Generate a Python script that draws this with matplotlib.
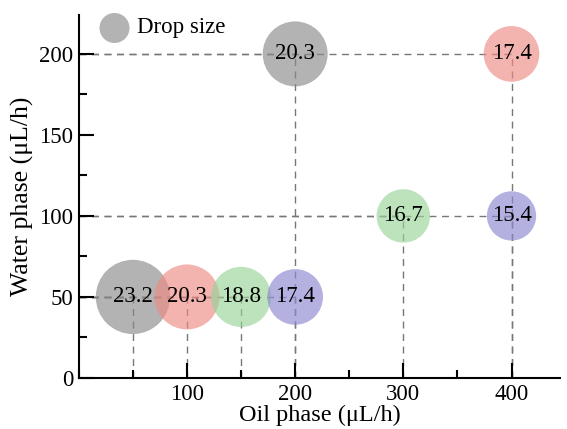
import numpy as np
import matplotlib.pyplot as plt
from matplotlib.ticker import MultipleLocator

plt.rcParams['font.family'] = ['Liberation Serif', 'DejaVu Serif']

oil = [50, 100, 150, 200, 200, 300, 400, 400]
water = [50, 50, 50, 50, 200, 100, 100, 200]
drop = [23.2, 20.3, 18.8, 17.4, 20.3, 16.7, 15.4, 17.4]
colors = ['#8a8a8a', '#ee8a84', '#98d498', '#8c88d0', '#8a8a8a', '#98d498', '#8c88d0', '#ee8a84']

fig = plt.figure(figsize=(5.67, 4.29), dpi=100)
ax = fig.add_axes([0.139, 0.119, 0.849, 0.846])

# dashed guide lines
for x, y in zip(oil, water):
    ax.plot([0, x], [y, y], ls=(0, (5, 4)), color='#777777', lw=1, zorder=1)
    ax.plot([x, x], [0, y], ls=(0, (5, 4)), color='#777777', lw=1, zorder=1)

# radius in px ~ 1.6 * drop size
r_pt = np.array(drop) * 1.6 * 0.72
sizes = (2 * r_pt) ** 2
ax.scatter(oil, water, s=sizes, c=colors, alpha=0.65, edgecolors='none', zorder=2)
for x, y, d in zip(oil, water, drop):
    ax.text(x, y, f'{d}', ha='center', va='center', fontsize=16.5, zorder=3)

# legend
ax.scatter([33], [216], s=(2 * 15 * 0.72) ** 2, c='#8a8a8a', alpha=0.65, edgecolors='none',
           clip_on=False)
ax.text(54, 216, 'Drop size', ha='left', va='center', fontsize=16.5)

ax.set_xlim(0, 445)
ax.set_ylim(0, 224)
ax.xaxis.set_major_locator(MultipleLocator(100))
ax.xaxis.set_minor_locator(MultipleLocator(50))
ax.yaxis.set_major_locator(MultipleLocator(50))
ax.yaxis.set_minor_locator(MultipleLocator(25))
ax.set_xticks([100, 200, 300, 400])
ax.tick_params(which='major', direction='in', length=10.5, width=1.5, labelsize=16.5, pad=4)
ax.tick_params(which='minor', direction='in', length=6, width=1.5)
for s in ['top', 'right']:
    ax.spines[s].set_visible(False)
for s in ['left', 'bottom']:
    ax.spines[s].set_linewidth(1.5)
ax.set_xlabel('Oil phase (μL/h)', fontsize=17.5, labelpad=0)
ax.set_ylabel('Water phase (μL/h)', fontsize=18.5, labelpad=4)

fig.savefig('out.png', dpi=100)
